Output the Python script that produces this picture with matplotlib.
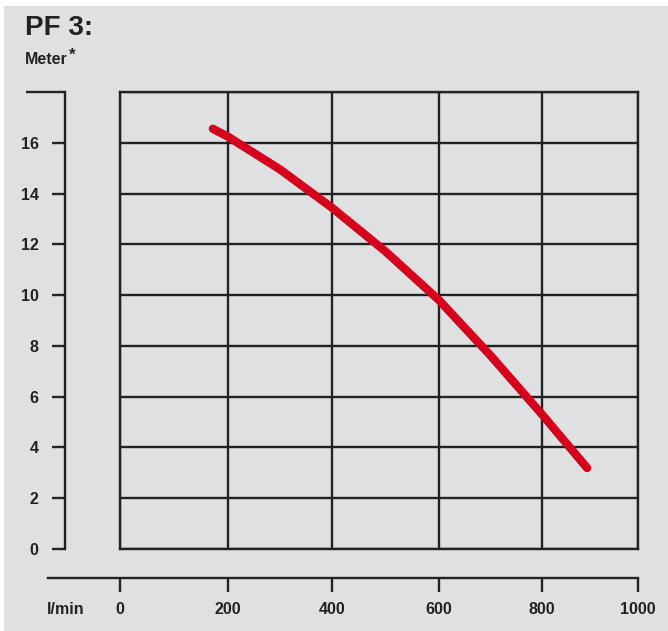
import numpy as np
import matplotlib.pyplot as plt
from matplotlib.patches import Rectangle

# pump curve PF 3
flow = [172, 200, 300, 400, 500, 600, 700, 800, 894]
head = [16.55, 16.24, 14.95, 13.44, 11.72, 9.8, 7.62, 5.3, 3.19]

x_ticks = [0, 200, 400, 600, 800, 1000]
y_ticks = [0, 2, 4, 6, 8, 10, 12, 14, 16]

W, H = 668, 631
bg = '#dfe0e1'
ink = '#222222'
plt.rcParams['font.family'] = ['Liberation Sans', 'DejaVu Sans']

# the printed x grid is hand-spaced, so map flow through a piecewise scale
grid_px = [120, 228, 332, 439, 542, 638]


def fwd(x):
    x = np.asarray(x, dtype=float)
    return np.where(x < 0, grid_px[0] + x * (grid_px[1] - grid_px[0]) / 200,
                    np.interp(x, x_ticks, grid_px))


def inv(p):
    p = np.asarray(p, dtype=float)
    return np.where(p < grid_px[0], (p - grid_px[0]) * 200 / (grid_px[1] - grid_px[0]),
                    np.interp(p, grid_px, x_ticks))


fig = plt.figure(figsize=(W / 100, H / 100), dpi=100, facecolor='white')
fig.patches.append(Rectangle((4 / W, 0), 1, 1 - 6 / H, transform=fig.transFigure,
                             facecolor=bg, edgecolor='none', zorder=-1))


def px(x0, y0, x1, y1):
    # pixel box (top-left origin) -> figure fraction
    return [x0 / W, 1 - y1 / H, (x1 - x0) / W, (y1 - y0) / H]


# main grid area
ax = fig.add_axes(px(120, 92, 638, 549))
ax.set_facecolor(bg)
ax.set_xscale('function', functions=(fwd, inv))
ax.set_xlim(0, 1000)
ax.set_ylim(0, 18)
ax.set_xticks(x_ticks)
ax.set_yticks(y_ticks + [18])
ax.grid(True, color=ink, linewidth=1.7)
ax.tick_params(length=0, labelbottom=False, labelleft=False)
for s in ax.spines.values():
    s.set_color(ink)
    s.set_linewidth(1.7)
ax.plot(flow, head, color='#d4001c', linewidth=6, solid_capstyle='round',
        solid_joinstyle='round', zorder=5)

# separate y axis
ay = fig.add_axes(px(65, 92, 66, 549))
ay.set_ylim(0, 18)
ay.patch.set_visible(False)
for k in ['top', 'right', 'bottom']:
    ay.spines[k].set_visible(False)
ay.spines['left'].set_color(ink)
ay.spines['left'].set_linewidth(1.7)
ay.set_xticks([])
ay.set_yticks(y_ticks)
ay.set_yticks([18], minor=True)
ay.tick_params(axis='y', which='major', length=9.5, width=1.7, color=ink,
               pad=9.5, labelsize=11.5, labelcolor=ink)
ay.tick_params(axis='y', which='minor', length=28, width=1.7, color=ink)
for t in ay.get_yticklabels():
    t.set_fontweight('bold')

# separate x axis
ax2 = fig.add_axes(px(48, 577, 638, 578))
ax2.set_xscale('function', functions=(fwd, inv))
ax2.set_xlim(-133, 1000)
ax2.patch.set_visible(False)
for k in ['top', 'right', 'left']:
    ax2.spines[k].set_visible(False)
ax2.spines['bottom'].set_color(ink)
ax2.spines['bottom'].set_linewidth(1.7)
ax2.set_yticks([])
ax2.set_xticks(x_ticks)
ax2.set_xticklabels([str(v) for v in x_ticks])
ax2.tick_params(axis='x', length=10, width=1.7, color=ink, pad=7.5,
                labelsize=11.5, labelcolor=ink)
for t in ax2.get_xticklabels():
    t.set_fontweight('bold')

fig.text(66 / W, 1 - 609 / H, 'l/min', ha='center', va='center',
         fontsize=11.5, fontweight='bold', color=ink)
fig.text(25 / W, 1 - 28 / H, 'PF 3:', ha='left', va='center',
         fontsize=20, fontweight='bold', color=ink)
fig.text(25 / W, 1 - 60 / H, 'Meter', ha='left', va='center',
         fontsize=11.5, fontweight='bold', color=ink)
fig.text(69 / W, 1 - 55 / H, '*', ha='left', va='center',
         fontsize=12, fontweight='bold', color=ink)

fig.savefig('out.png', dpi=100, facecolor='white')
